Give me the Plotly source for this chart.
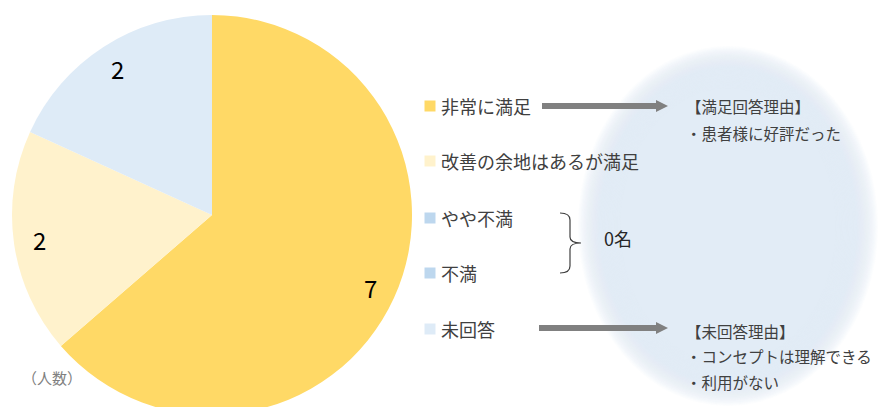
import math
import plotly.graph_objects as go

# ---- data ----
categories = ["非常に満足", "改善の余地はあるが満足", "やや不満", "不満", "未回答"]
counts = [7, 2, 0, 0, 2]
slice_colors = ["#FFD966", "#FFF2CC", "#BDD7EE", "#BDD7EE", "#DEEBF7"]
legend_colors = ["#FFD966", "#FFF2CC", "#BDD7EE", "#BDD7EE", "#DEEBF7"]
reason_satisfied = ["【満足回答理由】", "・患者様に好評だった"]
reason_unanswered = ["【未回答理由】", "・コンセプトは理解できる", "・利用がない"]
zero_label = "0名"
unit_label = "（人数）"

W, H = 882, 416
FONT = "Noto Sans CJK JP, Noto Sans, sans-serif"
TEXT = "#404040"

# pie geometry in pixels
cx, cy, r = 212, 215, 200

fig = go.Figure()

fig.add_trace(go.Pie(
    labels=categories, values=counts, sort=False, direction="clockwise",
    rotation=0, marker=dict(colors=slice_colors, line=dict(width=0)),
    textinfo="none", hoverinfo="label+value", showlegend=False,
    domain=dict(x=[(cx - r) / W, (cx + r) / W],
                y=[1 - (cy + r) / H, 1 - (cy - r) / H]),
))

# value labels placed along each slice's mid-angle
total = sum(counts)
start = 0.0
annotations = []
for v in counts:
    span = 360.0 * v / total
    if v > 0:
        mid = math.radians(start + span / 2)
        lx = cx + 0.87 * r * math.sin(mid)
        ly = cy - 0.87 * r * math.cos(mid)
        annotations.append(dict(x=lx, y=ly, xref="x", yref="y", text=str(v),
                                showarrow=False, font=dict(size=24, color="#000000", family=FONT)))
    start += span

# legend rows
legend_y = [106, 161, 218, 273, 329]
fig.add_trace(go.Scatter(
    x=[430] * len(categories), y=legend_y, mode="markers",
    marker=dict(symbol="square", size=11, color=legend_colors, line=dict(width=0)),
    hoverinfo="skip", showlegend=False,
))
for name, yy in zip(categories, legend_y):
    annotations.append(dict(x=439, y=yy, xref="x", yref="y", text=name, xanchor="left",
                            yanchor="middle", showarrow=False,
                            font=dict(size=18, color=TEXT, family=FONT)))

# soft glowing ellipse behind the reason notes
shapes = []
ex, ey = 728, 226
steps = 36
for i in range(steps):
    t = i / (steps - 1)
    rx = 150 - 42 * t
    ry = 180 - 42 * t
    shapes.append(dict(type="circle", xref="x", yref="y", layer="below",
                       x0=ex - rx, x1=ex + rx, y0=ey - ry, y1=ey + ry,
                       fillcolor="rgba(221,231,244,0.10)", line=dict(width=0)))

# arrows
for (x0, x1, yy) in [(542, 658, 106), (539, 658, 328)]:
    shapes.append(dict(type="line", xref="x", yref="y", x0=x0, x1=x1, y0=yy, y1=yy,
                       line=dict(color="#808080", width=6)))
    shapes.append(dict(type="path", xref="x", yref="y",
                       path=f"M {x1-2},{yy-6} L {x1+10},{yy} L {x1-2},{yy+6} Z",
                       fillcolor="#808080", line=dict(width=0)))

# bracket grouping the two zero-count rows
shapes.append(dict(type="path", xref="x", yref="y",
                   path="M 560,213 Q 570,213 570,220 L 570,237 Q 570,243 581,243 "
                        "Q 570,243 570,249 L 570,266 Q 570,273 560,273",
                   line=dict(color=TEXT, width=1.2)))
annotations.append(dict(x=602, y=238, xref="x", yref="y", text=zero_label, xanchor="left",
                        showarrow=False, font=dict(size=18, color="#262626", family=FONT)))

# reason notes
for lines, ys in [(reason_satisfied, [106, 133]), (reason_unanswered, [331, 356, 382])]:
    for txt, yy in zip(lines, ys):
        annotations.append(dict(x=684, y=yy, xref="x", yref="y", text=txt, xanchor="left",
                                showarrow=False, font=dict(size=15.5, color=TEXT, family=FONT)))

annotations.append(dict(x=20, y=377, xref="x", yref="y", text=unit_label, xanchor="left",
                        showarrow=False, font=dict(size=15, color="#808080", family=FONT)))

fig.update_layout(
    width=W, height=H, margin=dict(l=0, r=0, t=0, b=0),
    paper_bgcolor="white", plot_bgcolor="rgba(0,0,0,0)",
    xaxis=dict(range=[0, W], visible=False, fixedrange=True),
    yaxis=dict(range=[H, 0], visible=False, fixedrange=True),
    shapes=shapes, annotations=annotations, showlegend=False,
)

fig.write_html("out.html", config={"displayModeBar": False},
               post_script="document.body.style.margin='0';document.body.style.overflow='hidden';")
